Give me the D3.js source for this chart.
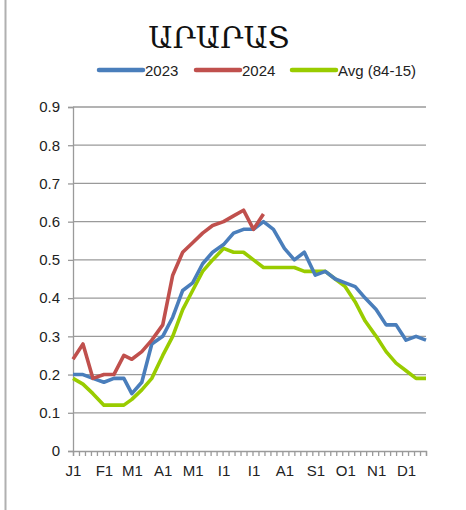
<!DOCTYPE html>
<html>
<head>
<meta charset="utf-8">
<script src="https://cdn.jsdelivr.net/npm/d3@7"></script>
<style>
  body { margin: 0; background: #fff; }
  svg { display: block; font-family: "Liberation Sans", Arial, sans-serif; }
</style>
</head>
<body>
<svg id="chart"></svg>
<script>
// Data
const title = "ԱՐԱՐԱՏ";
const monthLabels = ["J1", "F1", "M1", "A1", "M1", "I1", "I1", "A1", "S1", "O1", "N1", "D1"];
const dekadDays = [1, 11, 21];
const seriesNames = ["2023", "2024", "Avg (84-15)"];
const seriesColors = ["#4a7ebb", "#c0504d", "#99cc00"];
const yTicks = [0, 0.1, 0.2, 0.3, 0.4, 0.5, 0.6, 0.7, 0.8, 0.9];

const values2023 = [0.20, 0.20, 0.19, 0.18, 0.19, 0.19, 0.15, 0.18, 0.28, 0.30, 0.35, 0.42,
                    0.44, 0.49, 0.52, 0.54, 0.57, 0.58, 0.58, 0.60, 0.58, 0.53, 0.50, 0.52,
                    0.46, 0.47, 0.45, 0.44, 0.43, 0.40, 0.37, 0.33, 0.33, 0.29, 0.30, 0.29];
const values2024 = [0.24, 0.28, 0.19, 0.20, 0.20, 0.25, 0.24, 0.26, 0.29, 0.33, 0.46, 0.52,
                    0.545, 0.57, 0.59, 0.60, 0.615, 0.63, 0.58, 0.62];
const valuesAvg = [0.19, 0.175, 0.15, 0.12, 0.12, 0.12, 0.135, 0.16, 0.19, 0.25, 0.30, 0.37,
                   0.42, 0.47, 0.50, 0.53, 0.52, 0.52, 0.50, 0.48, 0.48, 0.48, 0.48, 0.47,
                   0.47, 0.47, 0.45, 0.43, 0.39, 0.34, 0.30, 0.26, 0.23, 0.21, 0.19, 0.19];

// Size
const width = 466, height = 510;
const margin = { top: 107, right: 40, bottom: 59, left: 73 };

// dates: 1st, 11th, 21st of each month
const dates = [];
monthLabels.forEach((m, i) => dekadDays.forEach(d => dates.push(new Date(Date.UTC(2023, i, d)))));
const monthStarts = monthLabels.map((m, i) => new Date(Date.UTC(2023, i, 1)));
const start = dates[0], end = dates[dates.length - 1];
const minorTicks = d3.utcDay.range(start, d3.utcDay.offset(end, 1)).filter((d, i) => i % 6 === 0);

const svg = d3.select("#chart").attr("width", width).attr("height", height);

// Scales
const x = d3.scaleUtc().domain([start, end]).range([margin.left, width - margin.right]);
const y = d3.scaleLinear().domain([0, 0.9]).range([height - margin.bottom, margin.top]);

// left border
svg.append("line")
    .attr("x1", 5.5).attr("x2", 5.5).attr("y1", 0).attr("y2", height)
    .attr("stroke", "#b0b0b0").attr("stroke-width", 2);

// title
svg.append("text")
    .attr("x", 219).attr("y", 48)
    .attr("text-anchor", "middle")
    .style("font-family", "'DejaVu Serif', serif")
    .style("font-size", "30px")
    .attr("fill", "#111")
    .text(title);

// gridlines
svg.append("g").selectAll("line")
    .data(yTicks.filter(d => d > 0))
    .join("line")
    .attr("x1", x(start)).attr("x2", x(end))
    .attr("y1", d => y(d)).attr("y2", d => y(d))
    .attr("stroke", "#9a9a9a").attr("stroke-width", 1.3);

// y axis
const yAxis = svg.append("g")
    .attr("transform", `translate(${margin.left},0)`)
    .call(d3.axisLeft(y).tickValues(yTicks).tickSize(5).tickPadding(8).tickFormat(d => d === 0 ? "0" : d3.format(".1f")(d)));

// x axis minor ticks
const xMinor = svg.append("g")
    .attr("transform", `translate(0,${height - margin.bottom})`)
    .call(d3.axisBottom(x).tickValues(minorTicks).tickSize(5).tickFormat(""));

// x axis labels
const xLabels = svg.append("g")
    .attr("transform", `translate(0,${height - margin.bottom})`)
    .call(d3.axisBottom(x).tickValues(monthStarts).tickSize(0).tickPadding(14).tickFormat((d, i) => monthLabels[i]));
xLabels.select(".domain").remove();

[yAxis, xMinor].forEach(g => {
    g.select(".domain").attr("stroke", "#9a9a9a").attr("stroke-width", 1.3);
    g.selectAll(".tick line").attr("stroke", "#9a9a9a").attr("stroke-width", 1.3);
});
[yAxis, xLabels].forEach(g => {
    g.selectAll("text").attr("fill", "#222").style("font-size", "15px");
});

// lines
const allSeries = [values2023, values2024, valuesAvg];
const line = d3.line()
    .x((d, i) => x(dates[i]))
    .y(d => y(d));

// draw avg first so the yearly lines sit above
[2, 0, 1].forEach(k => {
    svg.append("path")
        .datum(allSeries[k])
        .attr("fill", "none")
        .attr("stroke", seriesColors[k])
        .attr("stroke-width", 3.6)
        .attr("stroke-linejoin", "round")
        .attr("d", line);
});

// legend
const legendX = [99, 196, 292];
const legend = svg.append("g");
seriesNames.forEach((name, k) => {
    legend.append("line")
        .attr("x1", legendX[k]).attr("x2", legendX[k] + 44)
        .attr("y1", 70).attr("y2", 70)
        .attr("stroke", seriesColors[k]).attr("stroke-width", 4.5)
        .attr("stroke-linecap", "round");
    legend.append("text")
        .attr("x", legendX[k] + 46).attr("y", 75.5)
        .style("font-size", "15px")
        .attr("fill", "#222")
        .text(name);
});
</script>
</body>
</html>
